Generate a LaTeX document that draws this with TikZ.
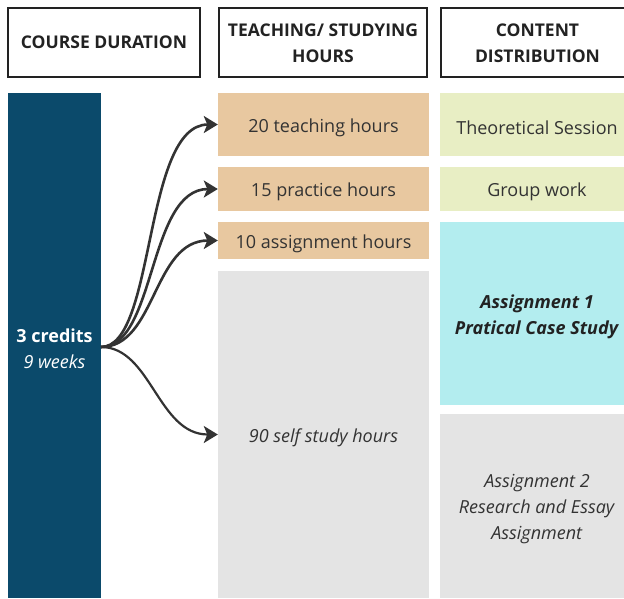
\documentclass[tikz,border=0pt]{standalone}
\usepackage{fontspec}
\setmainfont{Open Sans}
\usetikzlibrary{arrows.meta}
\definecolor{navy}{HTML}{0B4A6B}
\definecolor{tan}{HTML}{E8C8A0}
\definecolor{lime}{HTML}{E8EEC4}
\definecolor{aqua}{HTML}{B3EDEF}
\definecolor{pale}{HTML}{E4E4E4}
\definecolor{ink}{HTML}{333333}
\definecolor{frame}{HTML}{222222}
% set a line a little lower without changing its box
\newcommand\lowline[2][3pt]{\raisebox{-#1}[\height][\depth]{#2}}
\begin{document}
\begin{tikzpicture}[x=1pt,y=-1pt,
  hdr/.style={draw=frame, line width=2pt, fill=white, align=center,
    font=\fontsize{17.5}{26}\selectfont\bfseries, text=frame, inner sep=0pt},
  cell/.style={align=center, inner sep=0pt, text=ink,
    font=\fontsize{18}{26}\selectfont},
  link/.style={draw=ink, line width=2.6pt,
    -{Stealth[length=14pt,width=17pt,inset=3.5pt]}}]
\clip (0,0) rectangle (624,598);
\fill[white] (0,0) rectangle (624,598);

% column headers
\node[hdr, minimum width=192pt, minimum height=69pt] (hcourse) at (104,42.5) {COURSE DURATION};
\node[hdr, minimum width=208pt, minimum height=69pt] (hhours) at (323,42.5) {\lowline[1pt]{TEACHING/ STUDYING}\\\lowline[1pt]{HOURS}};
\node[hdr, minimum width=193pt, minimum height=69pt] (hcontent) at (537.5,42.5) {\lowline[1pt]{CONTENT}\\\lowline[1pt]{DISTRIBUTION}};

% course duration bar
\node[cell, fill=navy, text=white, minimum width=93pt, minimum height=505pt] (credits) at (54.5,345.5)
  {\lowline{\textbf{3 credits}}\\\lowline{\textit{9 weeks}}};

% hours
\node[cell, fill=tan, minimum width=211pt, minimum height=63pt] (t20) at (323.5,124.5) {\lowline{20 teaching hours}};
\node[cell, fill=tan, minimum width=211pt, minimum height=44pt] (t15) at (323.5,189) {\lowline{15 practice hours}};
\node[cell, fill=tan, minimum width=211pt, minimum height=37pt] (t10) at (323.5,240.5) {\lowline{10 assignment hours}};
\node[cell, fill=pale, minimum width=211pt, minimum height=327pt] (t90) at (323.5,434.5) {\lowline{\textit{90 self study hours}}};

% content distribution
\node[cell, fill=lime, minimum width=194pt, minimum height=63pt] (theory) at (537,124.5) {\lowline{Theoretical Session}};
\node[cell, fill=lime, minimum width=194pt, minimum height=44pt] (group) at (537,189) {\lowline{Group work}};
\node[cell, fill=aqua, text=frame, minimum width=194pt, minimum height=183pt] (asg1) at (537,313.5)
  {\lowline{\textbf{\textit{Assignment 1}}}\\\lowline{\textbf{\textit{Pratical Case Study}}}};
\node[cell, fill=pale, minimum width=194pt, minimum height=184pt] (asg2) at (537,506)
  {\lowline{\textit{Assignment 2}}\\\lowline{\textit{Research and Essay}}\\\lowline{\textit{Assignment}}};

% branching arrows
\coordinate (fork) at (101,347);
\draw[link] (fork) .. controls +(55,0) and +(-75,0) .. (t20.west);
\draw[link] (fork) .. controls +(55,0) and +(-70,0) .. (t15.west);
\draw[link] (fork) .. controls +(55,0) and +(-65,0) .. (t10.west);
\draw[link, line width=2.2pt] (fork) .. controls +(50,0) and +(-60,0) .. (t90.west);
\end{tikzpicture}
\end{document}
